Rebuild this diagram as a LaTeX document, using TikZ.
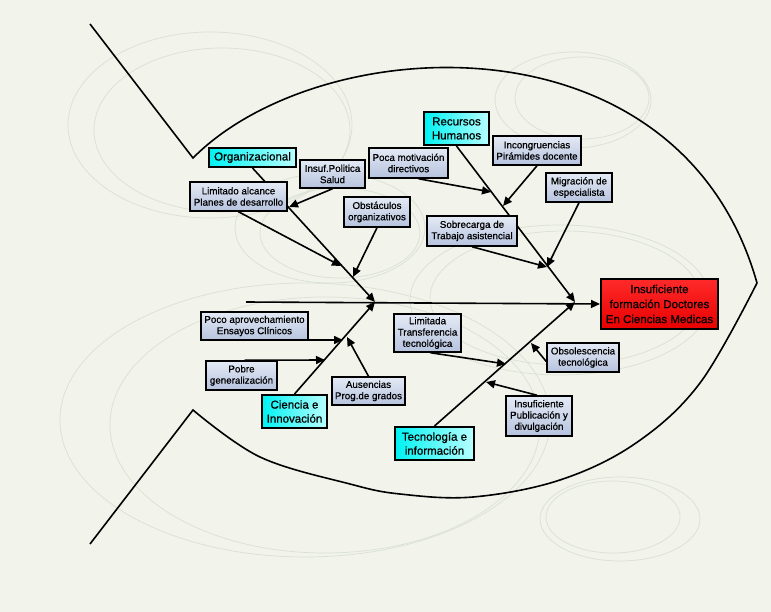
\documentclass[tikz,border=0pt]{standalone}
\usepackage{fontspec}
\setmainfont{Liberation Sans}
\newfontfamily\boxfont{Liberation Sans}[FakeBold=0.7]
\usetikzlibrary{arrows.meta,shadows}
\definecolor{bg}{HTML}{F2F3EB}
\definecolor{deco}{HTML}{D9E1D4}
\definecolor{causeT}{HTML}{E4EAF5}
\definecolor{causeB}{HTML}{B6C3DE}
\definecolor{catL}{HTML}{00F2F2}
\definecolor{catR}{HTML}{B8FFFF}
\definecolor{redT}{HTML}{FF2A2A}
\definecolor{redB}{HTML}{E80000}
\begin{document}
\begin{tikzpicture}[x=1pt,y=-1pt,
  cause/.style={draw=black,line width=1.5pt,top color=causeT,bottom color=causeB,
    align=center,inner sep=0pt,font=\boxfont\fontsize{9.8}{11.3}\selectfont,
    drop shadow={shadow xshift=1.4pt,shadow yshift=-1.4pt,opacity=0.45}},
  cat/.style={draw=black,line width=2pt,left color=catL,right color=catR,
    align=center,inner sep=0pt,font=\boxfont\fontsize{11.5}{14}\selectfont,
    drop shadow={shadow xshift=1.4pt,shadow yshift=-1.4pt,opacity=0.45}},
  effect/.style={draw=black,line width=2pt,top color=redT,bottom color=redB,
    align=center,inner sep=0pt,font=\boxfont\fontsize{11.5}{15}\selectfont,
    drop shadow={shadow xshift=1.4pt,shadow yshift=-1.4pt,opacity=0.45}},
  fish/.style={line width=1.6pt,line join=miter},
  arr/.style={line width=1.6pt,-{Triangle[length=9pt,width=8pt]}},
  decoline/.style={draw=deco,line width=0.7pt}
]
\fill[bg] (0,0) rectangle (771,612);
\useasboundingbox (0,0) rectangle (771,612);

% faint background ellipses
\draw[decoline] (210,125) ellipse [x radius=142,y radius=93];
\draw[decoline] (222,130) ellipse [x radius=128,y radius=82];
\draw[decoline] (573,100) ellipse [x radius=78,y radius=48];
\draw[decoline] (582,98) ellipse [x radius=67,y radius=41];
\draw[decoline] (305,420) ellipse [x radius=245,y radius=137];
\draw[decoline] (325,425) ellipse [x radius=215,y radius=128];
\draw[decoline] (620,519) ellipse [x radius=80,y radius=42];
\draw[decoline] (613,517) ellipse [x radius=67,y radius=36];
\draw[decoline] (560,300) ellipse [x radius=150,y radius=75];
\draw[decoline] (565,298) ellipse [x radius=135,y radius=67];
\draw[decoline] (330,228) ellipse [x radius=95,y radius=55];
\draw[decoline] (340,233) ellipse [x radius=80,y radius=45];

% fish outline
\draw[fish] (90,24) -- (193,158) .. controls (320,30) and (680,10) .. (757,283);
\draw[fish] plot[smooth,tension=0.6] coordinates {(757,283) (700,383) (636,443) (560,480) (473,497) (400,494) (350,484) (260,457) (193,410)} -- (90,544);

% junction coordinates
\coordinate (spineL) at (246,302);
\coordinate (jA) at (375,302);
\coordinate (jB) at (575,302);
\coordinate (jOrg1) at (341,266);
\coordinate (jOrg2) at (353,277);
\coordinate (jLim) at (289,207);
\coordinate (jRH1) at (491,192);
\coordinate (jRH2) at (503,206);
\coordinate (jRH3) at (547,267);
\coordinate (jCi1) at (343,340);
\coordinate (jCi2) at (325,360);
\coordinate (jCi3) at (347,337);
\coordinate (jTe1) at (506,364);
\coordinate (jTe2) at (531,343);
\coordinate (jTe3) at (486,382);

% category and effect nodes
\node[effect,minimum width=117pt,minimum height=50pt] (eff) at (659.5,304) {Insuficiente\\formación Doctores\\En Ciencias Medicas};
\node[cat,minimum width=87pt,minimum height=19pt] (org) at (252.5,157.5) {Organizacional};
\node[cat,minimum width=65pt,minimum height=33pt] (rh) at (456.5,128.5) {Recursos\\Humanos};
\node[cat,minimum width=65pt,minimum height=33pt] (cie) at (294.5,411.5) {Ciencia e\\Innovación};
\node[cat,minimum width=79pt,minimum height=33pt] (tec) at (434.5,443.5) {Tecnología e\\información};

% bones (behind cause boxes)
\draw[arr] (spineL) -- (eff.west);
\draw[arr] (org.south) -- (jA);
\draw[arr] (rh.south) -- (jB);
\draw[arr] (cie.north) -- (jA);
\draw[arr] (tec.north) -- (jB);

% cause nodes
\node[cause,minimum width=97pt,minimum height=29pt] (lim) at (238.5,196.5) {Limitado alcance\\Planes de desarrollo};
\node[cause,minimum width=65pt,minimum height=28pt] (pol) at (332.5,174) {Insuf.Politica\\Salud};
\node[cause,minimum width=79pt,minimum height=30pt] (poca) at (408.5,163) {Poca motivación\\directivos};
\node[cause,minimum width=66pt,minimum height=30pt] (obs) at (377,212) {Obstáculos\\organizativos};
\node[cause,minimum width=88pt,minimum height=29pt] (inc) at (537,150.5) {Incongruencias\\Pirámides docente};
\node[cause,minimum width=66pt,minimum height=29pt] (mig) at (579,187.5) {Migración de\\especialista};
\node[cause,minimum width=90pt,minimum height=30pt] (sob) at (472,231) {Sobrecarga de\\Trabajo asistencial};
\node[cause,minimum width=107pt,minimum height=28pt] (pap) at (254.5,326) {Poco aprovechamiento\\Ensayos Clínicos};
\node[cause,minimum width=71pt,minimum height=29pt] (pob) at (241.5,375.5) {Pobre\\generalización};
\node[cause,minimum width=73pt,minimum height=28pt] (aus) at (368.5,391) {Ausencias\\Prog.de grados};
\node[cause,minimum width=67pt,minimum height=38pt] (ltr) at (427.5,333) {Limitada\\Transferencia\\tecnológica};
\node[cause,minimum width=72pt,minimum height=29pt] (obl) at (583,357.5) {Obsolescencia\\tecnológica};
\node[cause,minimum width=66pt,minimum height=40pt] (ipd) at (539,416) {Insuficiente\\Publicación y\\divulgación};

% cause arrows
\draw[arr] (lim.south) -- (jOrg1);
\draw[arr] (obs.south) -- (jOrg2);
\draw[arr] (pol.south) -- (jLim);
\draw[arr] ([xshift=10pt]poca.south) -- (jRH1);
\draw[arr] (inc.south) -- (jRH2);
\draw[arr] (sob.south) -- (jRH3);
\draw[arr] (mig.south) -- (jRH3);
\draw[arr] ([yshift=-14pt]pap.east) -- (jCi1);
\draw[arr] ([xshift=3pt]pob.north) -- (jCi2);
\draw[arr] (aus.north) -- (jCi3);
\draw[arr] ([xshift=3pt]ltr.south) -- (jTe1);
\draw[arr] ([yshift=-4pt]obl.west) -- (jTe2);
\draw[arr] ([xshift=-2pt]ipd.north) -- (jTe3);
\end{tikzpicture}
\end{document}
